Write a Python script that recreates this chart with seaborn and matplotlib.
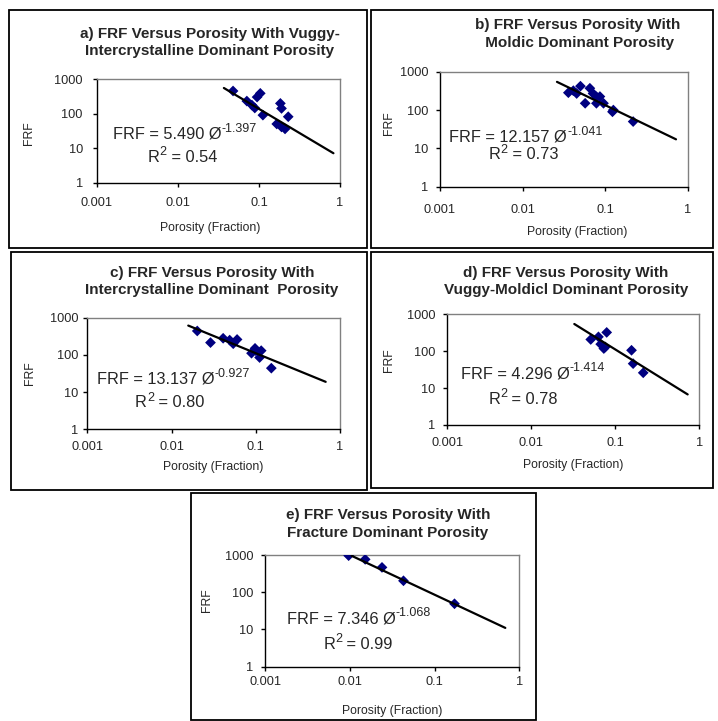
import numpy as np
import pandas as pd
import matplotlib
matplotlib.use("Agg")
import matplotlib.pyplot as plt
import seaborn as sns
from matplotlib.patches import Rectangle
from matplotlib.ticker import FixedLocator, NullLocator

sns.set_style("white")
plt.rcParams['font.family'] = ['Liberation Sans', 'DejaVu Sans']

# ---------------- data ----------------
titles = [
    "a) FRF Versus Porosity With Vuggy-\nIntercrystalline Dominant Porosity",
    "b) FRF Versus Porosity With\n Moldic Dominant Porosity",
    "c) FRF Versus Porosity With\nIntercrystalline Dominant  Porosity",
    "d) FRF Versus Porosity With\nVuggy-Moldicl Dominant Porosity",
    "e) FRF Versus Porosity With\nFracture Dominant Porosity",
]

por_a = [0.048, 0.071, 0.082, 0.089, 0.095, 0.104, 0.112, 0.166, 0.184, 0.19, 0.19, 0.21, 0.23]
frf_a = [450, 230, 176, 145, 300, 385, 90, 50, 197, 141, 41, 36, 81]

por_b = [0.0357, 0.041, 0.045, 0.050, 0.057, 0.065, 0.071, 0.078, 0.078, 0.086, 0.095, 0.122, 0.125, 0.217]
frf_b = [283, 320, 270, 420, 150, 370, 270, 222, 150, 225, 150, 90, 100, 50]

por_c = [0.0202, 0.029, 0.041, 0.049, 0.054, 0.060, 0.089, 0.098, 0.1, 0.111, 0.116, 0.153]
frf_c = [440, 214, 280, 250, 200, 260, 111, 150, 130, 85, 130, 44]

por_d = [0.051, 0.063, 0.067, 0.073, 0.076, 0.079, 0.156, 0.163, 0.215]
frf_d = [208, 245, 155, 118, 130, 323, 106, 46, 26]

por_e = [0.0097, 0.0152, 0.024, 0.043, 0.172]
frf_e = [960, 764, 465, 203, 49]

coef_a = [5.490, 12.157, 13.137, 4.296, 7.346]
expo = ["-1.397", "-1.041", "-0.927", "-1.414", "-1.068"]
r2 = ["0.54", "0.73", "0.80", "0.78", "0.99"]
trend_start = [0.037, 0.026, 0.0158, 0.0325, 0.0105]
trend_end = [0.83, 0.716, 0.676, 0.727, 0.684]

x_ticks = [0.001, 0.01, 0.1, 1]
x_tick_labels = ["0.001", "0.01", "0.1", "1"]
y_ticks = [1, 10, 100, 1000]
y_tick_labels = ["1", "10", "100", "1000"]

pors = [por_a, por_b, por_c, por_d, por_e]
frfs = [frf_a, frf_b, frf_c, frf_d, frf_e]

# ---------------- layout (pixels) ----------------
W, H = 718, 721
fig = plt.figure(figsize=(W / 100, H / 100), dpi=100)
renderer = fig.canvas.get_renderer()

def fx(x):
    return x / W

def fy(y):
    return 1 - y / H

boxes = [(9, 10, 366.5, 248), (370.5, 10, 713, 248),
         (11, 252, 366.5, 490), (370.5, 252, 713, 488),
         (191, 492.5, 536, 720)]
axes_px = [(96.7, 79, 340, 182.7), (440, 71.7, 688, 186.7),
           (87.3, 317.7, 340, 429.3), (447.3, 314.3, 699.3, 425),
           (265, 555, 519.3, 666.7)]
title_pos = [(210, 42.5), (578, 34), (212, 281.5), (566, 281.5), (388, 524)]
ylab_pos = [(29, 133), (389, 123), (30, 373), (389, 360), (207, 600)]
xlab_pos = [(210, 228), (577, 232), (213, 467), (573, 465), (392, 711)]
eq_pos = [(0.067, 0.428), (0.038, 0.391), (0.037, 0.412), (0.054, 0.422), (0.085, 0.389)]
r2_pos = [(0.21, 0.203), (0.197, 0.238), (0.189, 0.197), (0.163, 0.187), (0.229, 0.156)]
xpad = [7.2, 9.4, 5.6, 5.8, 3.6]
ypad = [7, 5.6, 3.5, 5.6, 5.6]

EQ_FS = 11.8
SUP_FS = 9.0
SUP_RISE = 6.8  # pixels


def rich_text(ax, x, y, pieces):
    X, Y = ax.transAxes.transform((x, y))
    for txt, size, dy in pieces:
        t = fig.text(fx(X), (Y + dy) / H, txt, fontsize=size,
                     ha='left', va='baseline')
        bb = t.get_window_extent(renderer)
        X = bb.x1


for (x0, y0, x1, y1) in boxes:
    fig.add_artist(Rectangle((fx(x0), fy(y1)), (x1 - x0) / W, (y1 - y0) / H,
                             transform=fig.transFigure, fill=False,
                             lw=1.3, ec='black'))

for i in range(5):
    x0, y0, x1, y1 = axes_px[i]
    ax = fig.add_axes([fx(x0), fy(y1), (x1 - x0) / W, (y1 - y0) / H])
    df = pd.DataFrame({"por": pors[i], "frf": frfs[i]})
    tx = np.array([trend_start[i], trend_end[i]])
    tdf = pd.DataFrame({"por": tx, "frf": coef_a[i] * tx ** float(expo[i])})
    ax.set_xscale('log')
    ax.set_yscale('log')
    sns.scatterplot(data=df, x="por", y="frf", ax=ax, marker='D', s=30,
                    color='#000080', edgecolor='none', zorder=3)
    sns.lineplot(data=tdf, x="por", y="frf", ax=ax, color='black', lw=1.6,
                 zorder=4)
    ax.set_xlim(0.001, 1)
    ax.set_ylim(1, 1000)
    ax.xaxis.set_major_locator(FixedLocator(x_ticks))
    ax.yaxis.set_major_locator(FixedLocator(y_ticks))
    ax.xaxis.set_minor_locator(NullLocator())
    ax.yaxis.set_minor_locator(NullLocator())
    ax.set_xticklabels(x_tick_labels)
    ax.set_yticklabels(y_tick_labels)
    ax.tick_params(axis='both', direction='out', length=3, width=1,
                   labelsize=9.2, bottom=True, left=True, color='black')
    ax.tick_params(axis='x', pad=xpad[i])
    ax.tick_params(axis='y', pad=ypad[i])
    ax.set_xlabel("")
    ax.set_ylabel("")
    for s in ['top', 'right']:
        ax.spines[s].set_color('#808080')
        ax.spines[s].set_linewidth(1.0)
    for s in ['left', 'bottom']:
        ax.spines[s].set_color('black')
        ax.spines[s].set_linewidth(1.0)

    rich_text(ax, eq_pos[i][0], eq_pos[i][1],
              [("FRF = %.3f Ø" % coef_a[i], EQ_FS, 0),
               (expo[i], SUP_FS, SUP_RISE)])
    rich_text(ax, r2_pos[i][0], r2_pos[i][1],
              [("R", EQ_FS, 0), ("2", SUP_FS, SUP_RISE),
               (" = " + r2[i], EQ_FS, 0)])

    tx_, ty_ = title_pos[i]
    fig.text(fx(tx_), fy(ty_), titles[i], ha='center', va='center',
             fontsize=11, fontweight='bold', linespacing=1.3)
    lx, ly = ylab_pos[i]
    fig.text(fx(lx), fy(ly), "FRF", rotation=90, ha='center', va='center',
             fontsize=8.8)
    px_, py_ = xlab_pos[i]
    fig.text(fx(px_), fy(py_), "Porosity (Fraction)", ha='center',
             va='center', fontsize=8.8)

fig.savefig("out.png", dpi=100)
